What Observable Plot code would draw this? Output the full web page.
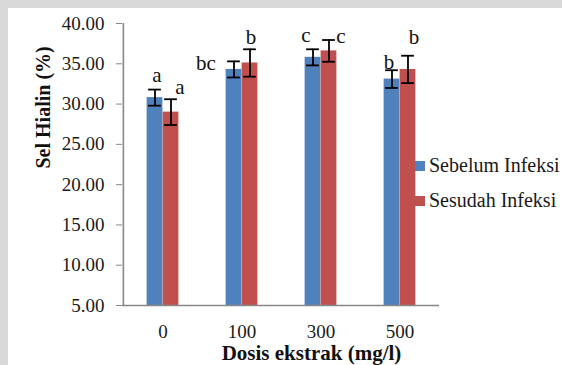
<!DOCTYPE html>
<html>
<head>
<meta charset="utf-8">
<script src="https://cdn.jsdelivr.net/npm/d3@7"></script>
<script src="https://cdn.jsdelivr.net/npm/@observablehq/plot@0.6"></script>
<style>
  body { margin: 0; background: #d9d9d9; }
  #wrap { position: relative; width: 562px; height: 365px; overflow: hidden; font-family: "Liberation Serif", "Times New Roman", Tinos, "DejaVu Serif", serif; }
  #paper { position: absolute; left: 8px; top: 8px; right: 0; bottom: 0; background: #fff; }
  #chart { position: absolute; left: 0; top: 0; }
  #chart svg, #chart svg text { font-family: "Liberation Serif", "Times New Roman", Tinos, "DejaVu Serif", serif !important; }
  #legend { position: absolute; left: 415px; top: 148px; font-size: 20px; color: #1a1a1a; }
  .item { display: flex; align-items: center; height: 35px; white-space: nowrap; }
  .sw { width: 10px; height: 10px; margin-right: 4px; }
</style>
</head>
<body>
<div id="wrap">
  <div id="paper"></div>
  <div id="chart"></div>
  <div id="legend"></div>
</div>
<script>
// ---- data ----
const doses = ["0", "100", "300", "500"];
const seriesNames = ["Sebelum Infeksi", "Sesudah Infeksi"];
const seriesColors = ["#4F81BD", "#C0504D"];
const sebelum = [30.8, 34.3, 35.8, 33.1];
const sesudah = [29.0, 35.1, 36.6, 34.3];
const errSebelum = [1.0, 1.0, 1.0, 1.1];
const errSesudah = [1.6, 1.7, 1.35, 1.7];
const notasiSebelum = ["a", "bc", "c", "b"];
const notasiSesudah = ["a", "b", "c", "b"];
const yTicks = [5, 10, 15, 20, 25, 30, 35, 40];
const yTitle = "Sel Hialin (%)";
const xTitle = "Dosis ekstrak (mg/l)";

// ---- table ----
const rows = [];
doses.forEach((d, i) => {
  rows.push({dose: d, s: 0, v: sebelum[i], e: errSebelum[i], lab: notasiSebelum[i]});
  rows.push({dose: d, s: 1, v: sesudah[i], e: errSesudah[i], lab: notasiSesudah[i]});
});

const FONT = '"Liberation Serif", "Times New Roman", Tinos, "DejaVu Serif", serif';

// layout constants
const W = 562, H = 365;
const mL = 122, mR = 123, mT = 23, mB = 60;
const step = (W - mL - mR) / doses.length;
const barW = 16, capW = 13;
const off = [-barW / 2, barW / 2];
// label offsets (px) relative to top of the error bar, per [series][dose]
const labelOffsets = [
  [[2, -14], [-28, 2], [-7, -14], [-3, -8]],
  [[9, -12], [1, -12], [12, -4], [6, -18]]
];

const marks = [];
[0, 1].forEach(s => {
  const data = rows.filter(r => r.s === s);
  marks.push(Plot.barY(data, {
    x: "dose", y1: yTicks[0], y2: "v", fill: seriesColors[s],
    dx: off[s], insetLeft: (step - barW) / 2, insetRight: (step - barW) / 2
  }));
});
[0, 1].forEach(s => {
  const data = rows.filter(r => r.s === s);
  marks.push(Plot.ruleX(data, {x: "dose", y1: d => d.v - d.e, y2: d => d.v + d.e, dx: off[s], stroke: "#000", strokeWidth: 1.8}));
  marks.push(Plot.tickY(data, {x: "dose", y: d => d.v - d.e, dx: off[s], insetLeft: (step - capW) / 2, insetRight: (step - capW) / 2, stroke: "#000", strokeWidth: 1.8}));
  marks.push(Plot.tickY(data, {x: "dose", y: d => d.v + d.e, dx: off[s], insetLeft: (step - capW) / 2, insetRight: (step - capW) / 2, stroke: "#000", strokeWidth: 1.8}));
  data.forEach((d, i) => {
    const [ox, oy] = labelOffsets[s][i];
    marks.push(Plot.text([d], {x: "dose", y: r => r.v + r.e, text: "lab", dx: off[s] + ox, dy: oy, fontSize: 21, fill: "#111", lineAnchor: "middle"}));
  });
});

// axes lines
marks.push(Plot.ruleY([yTicks[0]], {stroke: "#888", strokeWidth: 1.6}));
marks.push(Plot.ruleX([doses[0]], {y1: yTicks[0], y2: yTicks[yTicks.length - 1], dx: -step / 2, stroke: "#888", strokeWidth: 1.6}));
marks.push(Plot.axisY({ticks: yTicks, tickFormat: d => d.toFixed(2), tickSize: 6, tickPadding: 12, fontSize: 19, stroke: "#888", fill: "#1a1a1a", label: null}));
marks.push(Plot.axisX({tickSize: 0, tickPadding: 19, fontSize: 19, fill: "#1a1a1a", label: null}));
marks.push(Plot.text([yTitle], {text: d => d, frameAnchor: "left", rotate: -90, dx: -79, dy: 4, fontSize: 20, fontWeight: "bold", fill: "#111"}));
marks.push(Plot.text([xTitle], {text: d => d, frameAnchor: "bottom", dx: 30.5, dy: 48, fontSize: 21, fontWeight: "bold", fill: "#111", lineAnchor: "middle"}));

const chart = Plot.plot({
  width: W, height: H,
  marginLeft: mL, marginRight: mR, marginTop: mT, marginBottom: mB,
  style: {background: "transparent", fontFamily: FONT, color: "#111", overflow: "visible"},
  x: {type: "band", domain: doses, padding: 0, axis: null},
  y: {domain: [yTicks[0], yTicks[yTicks.length - 1]], axis: null},
  marks
});
document.getElementById("chart").appendChild(chart);

const legend = document.getElementById("legend");
seriesNames.forEach((n, i) => {
  const item = document.createElement("div");
  item.className = "item";
  const sw = document.createElement("span");
  sw.className = "sw";
  sw.style.background = seriesColors[i];
  const t = document.createElement("span");
  t.textContent = n;
  item.appendChild(sw); item.appendChild(t);
  legend.appendChild(item);
});
</script>
</body>
</html>
